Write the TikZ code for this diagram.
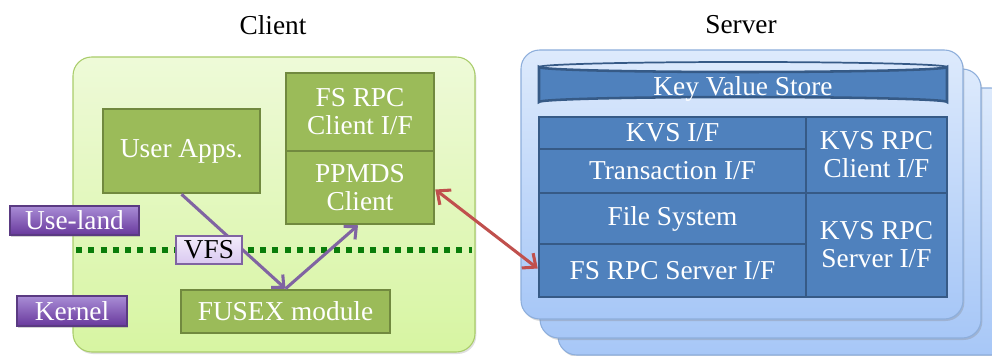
\documentclass[tikz,border=0pt]{standalone}
\usepackage{fontspec}
\setmainfont{Liberation Serif}
\usetikzlibrary{arrows.meta,fit,shadows,calc}

\definecolor{greenbox}{HTML}{9BBB59}
\definecolor{greenedge}{HTML}{71893F}
\definecolor{paneltop}{HTML}{EEFAD8}
\definecolor{panelbot}{HTML}{D7F5A2}
\definecolor{paneledge}{HTML}{A9CC6A}
\definecolor{dotgreen}{HTML}{0A7D0A}
\definecolor{bluebox}{HTML}{4F81BD}
\definecolor{blueedge}{HTML}{365A86}
\definecolor{srvtop}{HTML}{DDEAFC}
\definecolor{srvbot}{HTML}{A7C7F7}
\definecolor{srvedge}{HTML}{8DAEDB}
\definecolor{tagtop}{HTML}{A98DD6}
\definecolor{tagbot}{HTML}{68389C}
\definecolor{tagedge}{HTML}{5A3A82}
\definecolor{vfstop}{HTML}{F3ECFB}
\definecolor{vfsbot}{HTML}{D9C8F0}
\definecolor{vfsedge}{HTML}{8064A2}
\definecolor{flowpurple}{HTML}{8064A2}
\definecolor{linkred}{HTML}{C0504D}

\tikzset{
  greenblock/.style={draw=greenedge, fill=greenbox, line width=1.9pt, inner sep=0pt},
  blueblock/.style={draw=blueedge, fill=bluebox, line width=1.9pt, inner sep=0pt},
  tagbox/.style={draw=tagedge, top color=tagtop, bottom color=tagbot,
    line width=0.8pt, inner sep=0pt,
    drop shadow={shadow xshift=1pt, shadow yshift=-1.5pt, opacity=0.35}},
  vfsbox/.style={draw=vfsedge, top color=vfstop, bottom color=vfsbot,
    line width=0.8pt, inner sep=0pt},
  whitetext/.style={text=white, align=center, inner sep=0pt},
  blacktext/.style={text=black, align=center, inner sep=0pt},
  clientpanel/.style={draw=paneledge, top color=paneltop, bottom color=panelbot,
    line width=0.8pt, rounded corners=14pt,
    drop shadow={shadow xshift=1pt, shadow yshift=-1.5pt, opacity=0.25}},
  serverpanel/.style={draw=srvedge, top color=srvtop, bottom color=srvbot,
    line width=0.8pt, rounded corners=14pt,
    drop shadow={shadow xshift=1pt, shadow yshift=-1.5pt, opacity=0.3}},
  flow/.style={draw=flowpurple, line width=2.3pt,
    -{Straight Barb[length=7pt,width=13pt]}},
  rpclink/.style={draw=linkred, line width=2.3pt,
    {Straight Barb[length=8pt,width=14pt]}-{Straight Barb[length=8pt,width=14pt]}},
  boundary/.style={draw=dotgreen, line width=4.5pt, dash pattern=on 4.5pt off 4.7pt},
}

% a block spanning two corner points, with its label set at its centre
\newcommand{\blockat}[6]{%
  \path (#3) coordinate (#1-nw) (#4) coordinate (#1-se);
  \node[#2, fit=(#1-nw)(#1-se)] (#1) {};
  \node[#5] (#1-text) at ($(#1-nw)!0.5!(#1-se)$) {#6};
}

\begin{document}
\begin{tikzpicture}[x=0.75pt, y=-0.75pt, font=\fontsize{20.5}{22}\selectfont]
\useasboundingbox (0,0) rectangle (992,356);
\clip (0,0) rectangle (992,356);

% titles
\node (clienttitle) at (273,25) {Client};
\node (servertitle) at (741,25) {Server};

% client side
\path[clientpanel] (73,57) rectangle (475,352);
\draw[boundary] (76,250) -- (472,250);

\blockat{apps}{greenblock}{103,109}{260,193}{whitetext}{User Apps.}
\blockat{fsrpcc}{greenblock}{286,73}{434,151}{whitetext}{FS RPC\\[-1pt]Client I/F}
\blockat{ppmds}{greenblock}{286,151}{434,224}{whitetext}{PPMDS\\[-1pt]Client}
\blockat{fusex}{greenblock}{181,290}{390,333}{whitetext}{FUSEX module}

\blockat{useland}{tagbox}{10,206}{139,235}{whitetext}{Use-land}
\blockat{kernel}{tagbox}{17,296}{127,326}{whitetext}{Kernel}

\draw[flow] (apps.south) -- (fusex.north);
\draw[flow] (fusex.north) -- ($(ppmds.south)+(-2,0)$);
\blockat{vfs}{vfsbox}{176,236}{242,264}{blacktext}{VFS}

% server side: a stack of three machines
\path[serverpanel] (558,88) rectangle (1010,355);
\path[serverpanel] (540,69) rectangle (981,338);
\path[serverpanel] (521,50) rectangle (963,319);

% key value store drum
\draw[blueedge, fill=bluebox, line width=1.9pt]
  (539,67) -- (539,102) arc[start angle=180, end angle=360, x radius=204, y radius=5]
  -- (947,67) arc[start angle=0, end angle=180, x radius=204, y radius=5] -- cycle;
\draw[blueedge, line width=1.3pt]
  (539,67) arc[start angle=180, end angle=360, x radius=204, y radius=5];
\node[whitetext] (kvs) at (743,89) {Key Value Store};

\blockat{kvsif}{blueblock}{539,117}{806,149}{whitetext}{KVS I/F}
\blockat{txif}{blueblock}{539,149}{806,193}{whitetext}{Transaction I/F}
\blockat{fs}{blueblock}{539,193}{806,244}{whitetext}{File System}
\blockat{fsrpcs}{blueblock}{539,244}{806,297}{whitetext}{FS RPC Server I/F}
\blockat{kvsrpcc}{blueblock}{806,117}{947,193}{whitetext}{KVS RPC\\[-1pt]Client I/F}
\blockat{kvsrpcs}{blueblock}{806,193}{947,297}{whitetext}{KVS RPC\\[-1pt]Server I/F}

% client to server link
\draw[rpclink] ($(ppmds.east)+(0,2)$) -- ($(fsrpcs.west)+(0,-2)$);
\end{tikzpicture}
\end{document}
